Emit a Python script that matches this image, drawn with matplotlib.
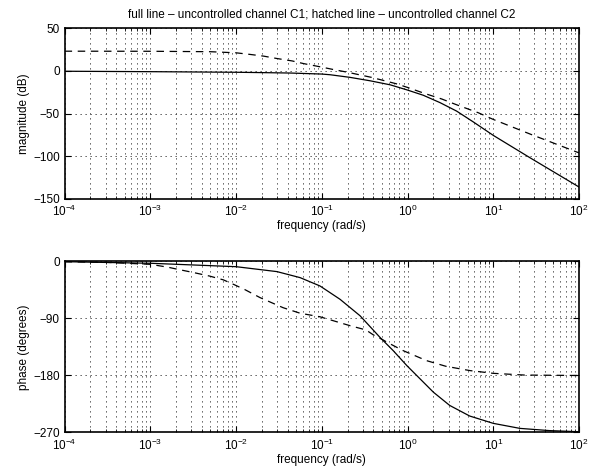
import numpy as np
import matplotlib.pyplot as plt

plt.rcParams['font.family'] = ['Liberation Sans', 'DejaVu Sans']
plt.rcParams['mathtext.fontset'] = 'custom'
plt.rcParams['mathtext.rm'] = 'Liberation Sans'
plt.rcParams['mathtext.it'] = 'Liberation Sans'
plt.rcParams['font.size'] = 8.5

# magnitude, channel C1 (full line)
w_mag1 = [1e-4, 1e-3, 0.01, 0.02, 0.043, 0.1, 0.125, 0.214, 0.366, 0.626, 0.98,
          1.52, 2.39, 3.73, 5.8, 10.0, 27.0, 100.0]
mag1 = [-0.3, -0.8, -1.5, -1.9, -2.4, -3.6, -4.4, -7.5, -11.5, -16.2, -22.1,
        -28.4, -37.1, -47.0, -59.5, -75.5, -101.9, -136.0]

# magnitude, channel C2 (hatched line)
w_mag2 = [1e-4, 1e-3, 0.005, 0.01, 0.0146, 0.021, 0.030, 0.045, 0.061, 0.1,
          0.132, 0.2, 0.38, 0.74, 1.0, 1.6, 2.5, 3.6, 6.7, 10.0, 27.0, 100.0]
mag2 = [23.2, 23.1, 22.6, 21.3, 19.4, 17.4, 14.6, 11.8, 8.7, 4.5,
        2.0, -1.5, -7.5, -15.0, -19.3, -26.5, -32.8, -39.0, -49.0, -56.8, -74.0, -96.0]

# phase, channel C1
w_ph1 = [1e-4, 1e-3, 0.01, 0.03, 0.0558, 0.095, 0.163, 0.279, 0.477, 0.68, 0.98,
         1.4, 2.0, 3.1, 5.3, 10.0, 20.4, 45.0, 100.0]
ph1 = [-0.3, -2.8, -8.2, -16.0, -25.5, -38.6, -59.7, -85.7, -119.9, -140.8, -164.4,
       -185.4, -206.4, -227.3, -244.0, -255.6, -263.5, -267.0, -268.8]

# phase, channel C2
w_ph2 = [1e-4, 3e-4, 1e-3, 0.0016, 0.0022, 0.0032, 0.0049, 0.0071, 0.0093, 0.0127,
         0.019, 0.0354, 0.0558, 0.095, 0.215, 0.326, 0.4, 0.52, 0.6, 0.89, 1.66,
         2.8, 5.3, 10.0, 23.0, 100.0]
ph2 = [-0.4, -1.3, -4.5, -9.0, -13.0, -17.5, -23.0, -29.0, -36.0, -44.5,
       -57.0, -73.0, -81.7, -87.3, -101.5, -108.0, -116.0, -124.0, -128.8, -140.8, -156.5,
       -165.5, -172.2, -176.6, -179.3, -180.0]

fig = plt.figure(figsize=(5.97, 4.72), dpi=100)
ax1 = fig.add_axes([0.1082, 0.5784, 0.8618, 0.3616])
ax2 = fig.add_axes([0.1082, 0.0837, 0.8618, 0.3623])

ax1.semilogx(w_mag1, mag1, color='black', lw=0.9)
ax1.semilogx(w_mag2, mag2, color='black', lw=0.9, dashes=(6, 4.5))
ax2.semilogx(w_ph1, ph1, color='black', lw=0.9)
ax2.semilogx(w_ph2, ph2, color='black', lw=0.9, dashes=(6, 4.5))

ax1.set_ylim(-150, 50)
ax1.set_yticks([-150, -100, -50, 0, 50])
ax2.set_ylim(-270, 0)
ax2.set_yticks([-270, -180, -90, 0])

# matlab style dotted grid
grid_ls = (0, (1.5, 4.5))
for ax in (ax1, ax2):
    ax.set_xlim(1e-4, 1e2)
    ax.set_xticks([1e-4, 1e-3, 1e-2, 1e-1, 1e0, 1e1, 1e2])
    ax.grid(True, which='major', ls=grid_ls, color='#222222', lw=0.6)
    ax.grid(True, which='minor', axis='x', ls=grid_ls, color='#222222', lw=0.6)
    ax.tick_params(which='both', direction='in', top=True, right=True)
    ax.tick_params(which='major', length=4, labelsize=8.5)
    ax.tick_params(which='minor', length=2)
    for s in ax.spines.values():
        s.set_linewidth(1.2)
    ax.set_xlabel('frequency (rad/s)', fontsize=8.5, labelpad=1)

ax1.set_ylabel('magnitude (dB)', fontsize=8.5, labelpad=2)
ax2.set_ylabel('phase (degrees)', fontsize=8.5, labelpad=2)
ax1.set_title('full line \u2013 uncontrolled channel C1; hatched line \u2013 uncontrolled channel C2',
              fontsize=8.5, pad=8)

fig.savefig('out.png', dpi=100)
